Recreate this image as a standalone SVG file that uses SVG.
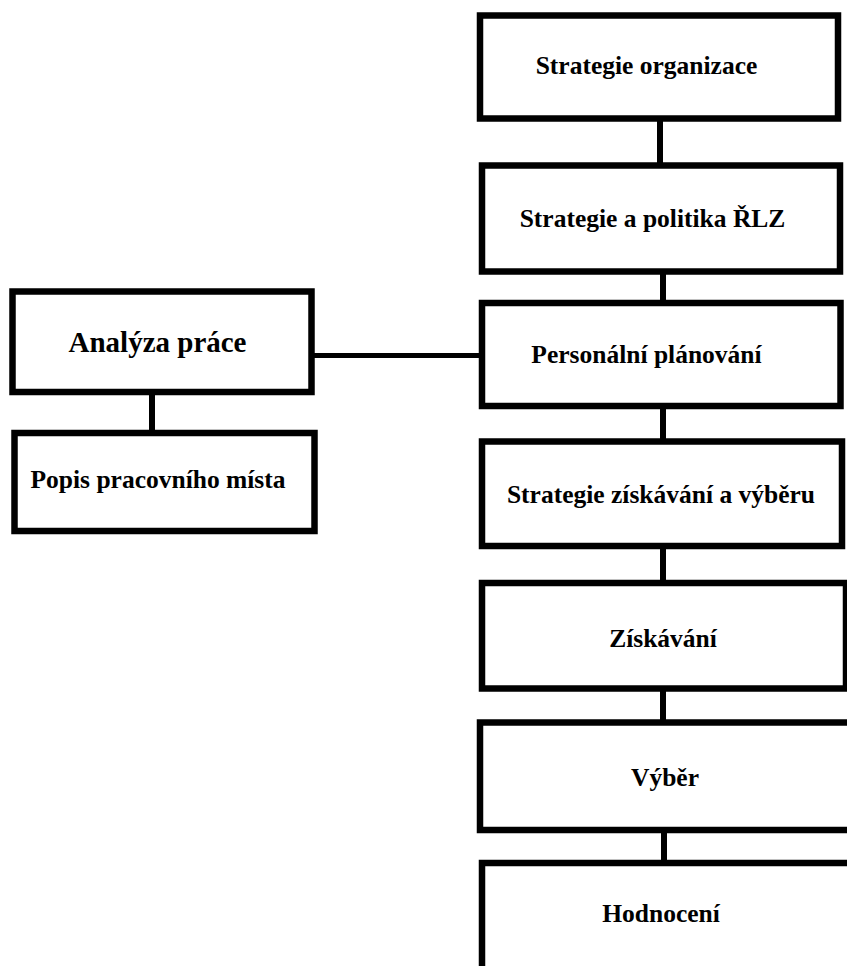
<svg xmlns="http://www.w3.org/2000/svg" width="847" height="966" viewBox="0 0 847 966">
<style>
.box{fill:#fff;stroke:#000;stroke-width:6.5}
.conn{stroke:#000;stroke-width:6;fill:none}
.t{font-family:"Liberation Serif","Times New Roman",serif;font-weight:bold;font-size:25.5px;fill:#000;text-anchor:middle}
.big{font-size:29px}
</style>
<rect width="847" height="966" fill="#fff"/>
<g id="connectors">
<line class="conn" x1="660" y1="118" x2="660" y2="168"/>
<line class="conn" x1="663" y1="271" x2="663" y2="306"/>
<line class="conn" x1="663" y1="406" x2="663" y2="444"/>
<line class="conn" x1="663" y1="546" x2="663" y2="586"/>
<line class="conn" x1="663" y1="688" x2="663" y2="725"/>
<line class="conn" x1="664" y1="830" x2="664" y2="868"/>
<line class="conn" x1="152" y1="392" x2="152" y2="436"/>
<line class="conn" x1="311" y1="355.5" x2="482" y2="355.5" style="stroke-width:5"/>
</g>
<g id="n1"><rect class="box" x="480" y="15.5" width="358" height="103"/><text class="t" x="646.5" y="74">Strategie organizace</text></g>
<g id="n2"><rect class="box" x="482" y="165.5" width="358" height="106"/><text class="t" x="652.5" y="227">Strategie a politika ŘLZ</text></g>
<g id="n3"><rect class="box" x="482" y="303" width="358.5" height="103"/><text class="t" x="646.5" y="363">Personální plánování</text></g>
<g id="n4"><rect class="box" x="482" y="441.5" width="360" height="104.5"/><text class="t" x="661" y="503">Strategie získávání a výběru</text></g>
<g id="n5"><rect class="box" x="482" y="583" width="364" height="105.5"/><text class="t" x="663" y="647">Získávání</text></g>
<g id="n6"><rect class="box" x="480" y="722.5" width="375" height="107.5"/><text class="t" x="665" y="786">Výběr</text></g>
<g id="n7"><rect class="box" x="482" y="863" width="375" height="115"/><text class="t" x="661" y="922">Hodnocení</text></g>
<g id="a1"><rect class="box" x="12.5" y="291.5" width="299" height="100.5"/><text class="t big" x="157.5" y="352">Analýza práce</text></g>
<g id="a2"><rect class="box" x="14.5" y="433" width="300" height="98"/><text class="t" x="158" y="488">Popis pracovního místa</text></g>
</svg>
